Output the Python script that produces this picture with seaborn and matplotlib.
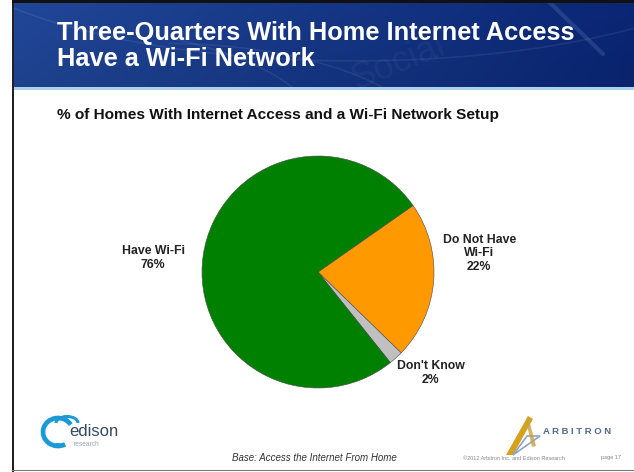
import numpy as np
import matplotlib
matplotlib.use("Agg")
import matplotlib.pyplot as plt
from matplotlib.patches import Rectangle, Arc, Polygon
import seaborn as sns

# Survey breakdown (percent of homes with internet access)
categories = ["Do Not Have\nWi-Fi", "Don't Know", "Have Wi-Fi"]
shares = [22, 2, 76]
colors = ["#ff9900", "#c0c0c0", "#008000"]

title = "Three-Quarters With Home Internet Access\nHave a Wi-Fi Network"
subtitle = "% of Homes With Internet Access and a Wi-Fi Network Setup"
base_note = "Base: Access the Internet From Home"
copyright_note = "\u00a92012 Arbitron Inc. and Edison Research"
page_note = "page 17"

sns.set_theme(style="white")
plt.rcParams["font.family"] = ["Liberation Sans", "DejaVu Sans"]

W, H = 634, 472
fig = plt.figure(figsize=(W / 100, H / 100), dpi=100)
fig.patch.set_facecolor("white")

def fx(px):
    return px / W

def fy(py):
    return 1 - py / H

# ---- header band with blue gradient ----
hdr_h = 87
hdr = fig.add_axes([fx(13), fy(hdr_h), fx(W - 13), hdr_h / H])
hdr.set_axis_off()
gx = np.linspace(0, 1, 300)
gy = np.linspace(0, 1, 60)[:, None]
left_c = np.array([0.13, 0.28, 0.60])
right_c = np.array([0.04, 0.15, 0.46])
t = gx[None, :, None] * np.ones((60, 1, 1))
grad = left_c * (1 - t) + right_c * t
grad = grad * (0.92 + 0.08 * gy[:, :, None])
hdr.imshow(grad, extent=[0, 1, 0, 1], aspect="auto", origin="lower")
hdr.set_xlim(0, 1)
hdr.set_ylim(0, 1)
# faint decorative strokes in the banner
for cx, cy, w, h, a1, a2 in [(0.05, -0.6, 0.9, 2.6, 20, 80), (0.25, -0.9, 0.9, 2.8, 30, 90),
                             (0.55, 1.9, 1.4, 3.2, 230, 300)]:
    hdr.add_patch(Arc((cx, cy), w, h, theta1=a1, theta2=a2, color="white", alpha=0.07, lw=1.2))
hdr.plot([0.86, 0.95], [1.0, 0.38], color="#7fa0d8", alpha=0.2, lw=3)
hdr.text(0.62, 0.28, "Social", color="white", alpha=0.04, fontsize=26, rotation=22,
         ha="center", va="center")

def hx(px):
    return (px - 13) / (W - 13)

def hy(py):
    return 1 - py / hdr_h

hdr.text(hx(57), hy(46), title, color="white", fontsize=18.3,
         fontweight="bold", ha="left", va="center", linespacing=1.12)

# light stripe under header
fig.add_artist(Rectangle((fx(13), fy(90)), fx(W - 13), 3 / H, transform=fig.transFigure,
                         color="#a9d2ee", lw=0))
# frame lines
fig.add_artist(Rectangle((fx(12), 0), 2 / W, 1, transform=fig.transFigure, color="#222222", lw=0))
fig.add_artist(Rectangle((fx(12), fy(471)), fx(W - 12), 1.5 / H, transform=fig.transFigure,
                         color="#777777", lw=0))
fig.add_artist(Rectangle((fx(12), fy(3)), fx(W - 12), 3 / H, transform=fig.transFigure,
                         color="#111111", lw=0))

# subtitle
fig.text(fx(57), fy(115), subtitle, fontsize=11.1, fontweight="bold", color="#111111",
         ha="left", va="center")

# ---- pie chart ----
cx_px, cy_px, r_px = 318, 272, 116
ax = fig.add_axes([fx(cx_px - r_px), fy(cy_px + r_px), 2 * r_px / W, 2 * r_px / H])
wedges, _ = ax.pie(shares, colors=colors, startangle=35, counterclock=False,
                   wedgeprops=dict(edgecolor="#4a4a4a", linewidth=0.4))
ax.set_xlim(-1, 1)
ax.set_ylim(-1, 1)
ax.set_aspect("equal")
ax.set_axis_off()

label_pos = {"Do Not Have\nWi-Fi": (1.39, 0.16), "Don't Know": (0.97, -0.87), "Have Wi-Fi": (-1.42, 0.12)}
for cat, val in zip(categories, shares):
    x, y = label_pos[cat]
    ax.text(x, y, f"{cat}\n{val}%", ha="center", va="center", fontsize=8.8,
            fontweight="bold", color="#222222", linespacing=1.2, clip_on=False)

# ---- footer ----
fig.text(fx(314), fy(458), base_note, fontsize=7.0, style="italic", color="#333333",
         ha="center", va="center")
fig.text(fx(514), fy(458), copyright_note, fontsize=4.0, color="#888888", ha="center", va="center")
fig.text(fx(611), fy(458), page_note, fontsize=4.0, color="#888888", ha="center", va="center")

# edison logo
lg = fig.add_axes([0, 0, 1, 1], facecolor="none")
lg.set_xlim(0, W)
lg.set_ylim(H, 0)
lg.set_axis_off()
lg.add_patch(Arc((58, 432), 30, 28, theta1=60, theta2=330, color="#1d9ad6", lw=3.4))
lg.add_patch(Arc((67, 423), 22, 13, theta1=180, theta2=360, color="#1d9ad6", lw=2.2))
lg.add_patch(Arc((58, 447), 8, 6, theta1=180, theta2=360, color="#1d9ad6", lw=1.5))
lg.text(69, 432, "edison", fontsize=12.0, color="#34495e", ha="left", va="center")
lg.text(73, 445, "research", fontsize=4.8, color="#9aa7b0", ha="left", va="center")

# arbitron logo
lg.add_patch(Polygon([[506, 455], [528, 416], [533, 419], [513, 455]], closed=True,
                     color="#d6a21e", lw=0))
lg.add_patch(Polygon([[513, 455], [540, 436], [527, 436]], closed=True, facecolor="none",
                     edgecolor="#8fa4c8", lw=1.2))
lg.add_patch(Polygon([[528, 416], [536, 446], [532, 447], [526, 421]], closed=True,
                     color="#c8a040", lw=0, alpha=0.8))
lg.text(543, 431, "A R B I T R O N", fontsize=6.8, color="#4f6a8c", fontweight="bold",
        ha="left", va="center")

fig.savefig("out.png", dpi=100, facecolor="white")
